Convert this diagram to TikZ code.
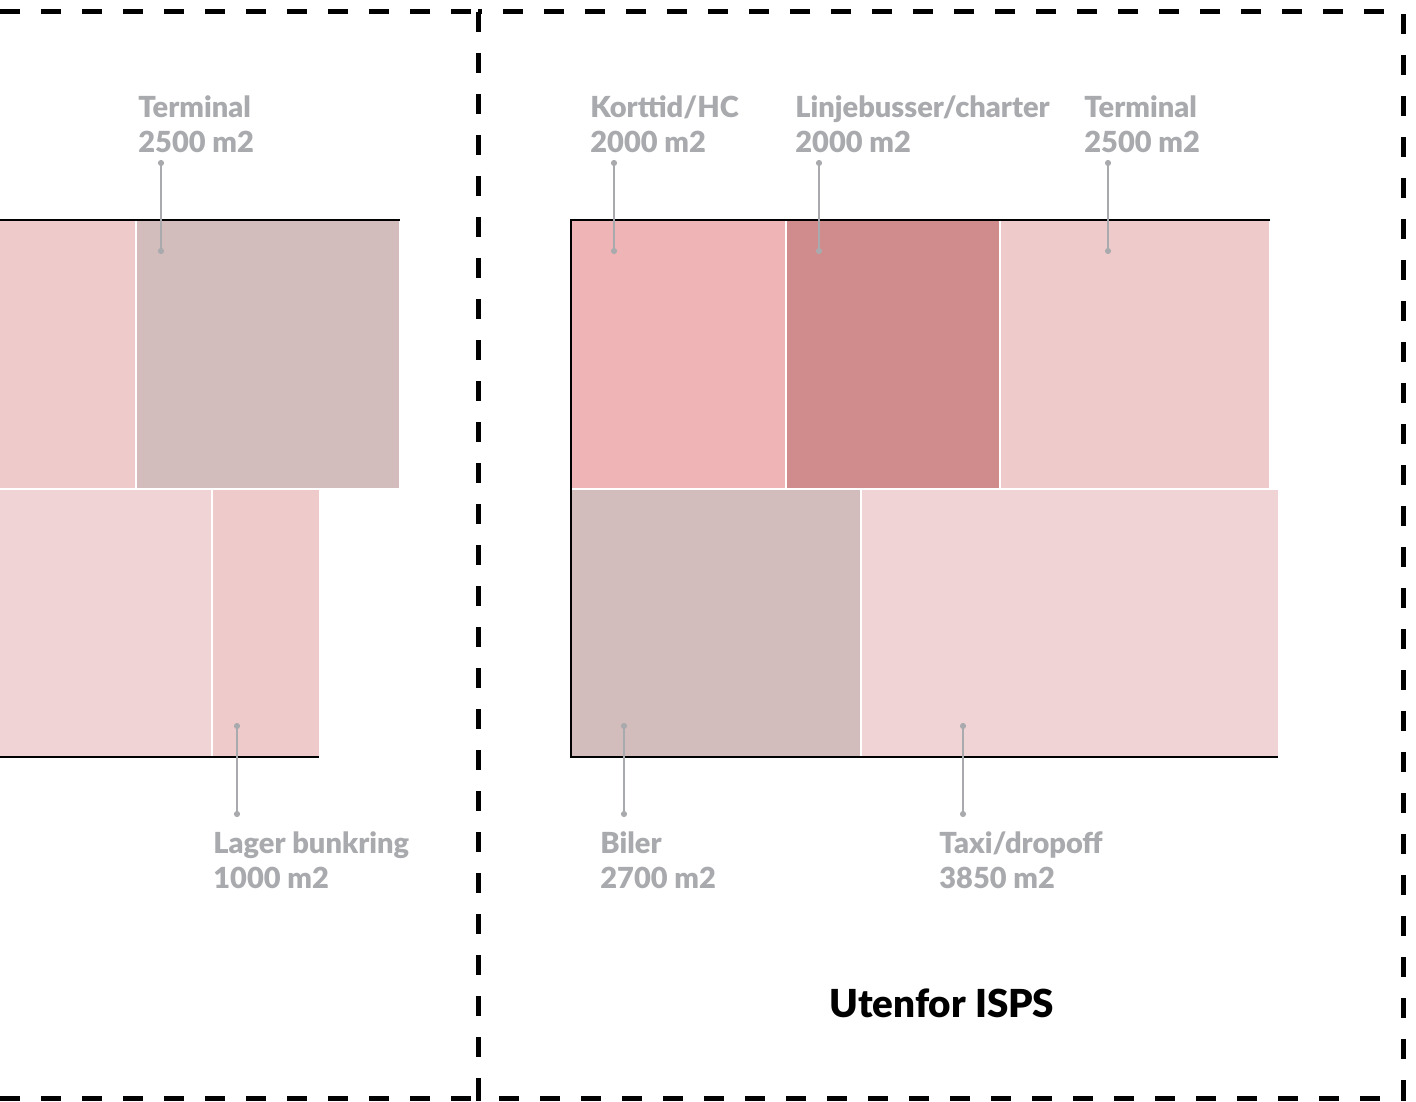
\documentclass[tikz,border=0pt]{standalone}
\usepackage{fontspec}
\setmainfont{Lato}[BoldFont={Lato Black}]
\usepackage{xcolor}
\usepackage{tikz}
\usetikzlibrary{arrows.meta}
\definecolor{labelgray}{HTML}{A9AAAD}
\definecolor{areapink}{HTML}{EFCACB}
\definecolor{arearose}{HTML}{EFB4B5}
\definecolor{areadark}{HTML}{D08C8D}
\definecolor{areataupe}{HTML}{D3BDBC}
\definecolor{arealight}{HTML}{EFD3D5}
\newcommand*{\area}[3]{\fill[#1](#2)rectangle(#3);}

\begin{document}
\begin{tikzpicture}[x=0.5pt,y=-0.5pt,
  lbltop/.style={font=\bfseries\fontsize{14.5}{17.5}\selectfont,text=labelgray,align=left,inner xsep=0pt,inner ysep=3.5pt,anchor=south west},
  lblbot/.style={lbltop,inner ysep=7pt,anchor=north west},
  leader/.style={labelgray,line width=1pt,{Circle[length=3pt]}-{Circle[length=3pt]}},
  edge/.style={line width=0.8pt},
  zone/.style={line width=2.5pt,dash pattern=on 10pt off 10.5pt}]
\useasboundingbox(0,0)rectangle(1416,1101);

% zones
\draw[zone](0,12)--(478,12);
\draw[zone](0,1098)--(478,1098);
\draw[zone](478,12)rectangle(1403,1098);
\draw[zone](478,1098)--(478,1101);

% left block
\area{areapink}{0,220}{135,488}
\area{areataupe}{137,220}{399,488}
\area{arealight}{0,490}{211,757}
\area{areapink}{213,490}{319,757}
\draw[edge](0,220)--(400,220);
\draw[edge](0,757)--(319,757);

% right block
\area{arearose}{571,220}{785,488}
\area{areadark}{787,220}{999,488}
\area{areapink}{1001,220}{1269,488}
\area{areataupe}{571,490}{860,757}
\area{arealight}{862,490}{1278,757}
\draw[edge](1270,220)--(571,220)--(571,757)--(1278,757);

% labels over
\node[lbltop](term1)at(138,160){Terminal\\2500 m2};
\node[lbltop](kort)at(590,160){Korttid/HC\\2000 m2};
\node[lbltop](linje)at(795,160){Linjebusser/charter\\2000 m2};
\node[lbltop](term2)at(1084,160){Terminal\\2500 m2};
\coordinate(term1p)at(161,254);
\coordinate(kortp)at(614,254);
\coordinate(linjep)at(819,254);
\coordinate(term2p)at(1108,254);
\foreach\p/\l in{term1p/term1,kortp/kort,linjep/linje,term2p/term2}
  \draw[leader](\p)--(\p|-\l.south);

% labels under
\node[lblbot](lager)at(213,817){Lager bunkring\\1000 m2};
\node[lblbot](biler)at(600,817){Biler\\2700 m2};
\node[lblbot](taxi)at(939,817){Taxi/dropoff\\3850 m2};
\coordinate(lagerp)at(237,723);
\coordinate(bilerp)at(624,723);
\coordinate(taxip)at(963,723);
\foreach\p/\l in{lagerp/lager,bilerp/biler,taxip/taxi}
  \draw[leader](\p)--(\p|-\l.north);

\node[font=\bfseries\fontsize{19.3}{23}\selectfont](outside)at(942,1003){Utenfor ISPS};
\end{tikzpicture}
\end{document}
